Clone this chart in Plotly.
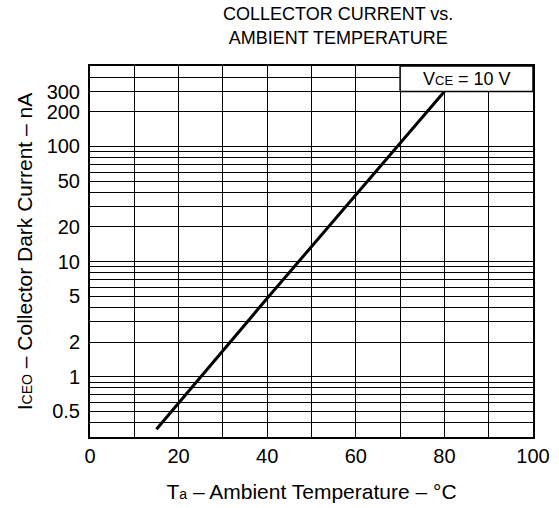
import math
import plotly.graph_objects as go

# Data (straight line on log scale)
temp_c = [15, 40, 80]
iceo_na = [0.35, 4.8, 300]

x_grid = [0, 10, 20, 30, 40, 50, 60, 70, 80, 90, 100]
x_labels = ["0", "", "20", "", "40", "", "60", "", "80", "", "100"]

y_grid = [0.3, 0.4, 0.5, 0.6, 0.7, 0.8, 0.9,
          1, 2, 3, 4, 5, 6, 7, 8, 9,
          10, 20, 30, 40, 50, 60, 70, 80, 90,
          100, 200, 300, 400, 500]
y_label_map = {0.5: "0.5", 1: "1", 2: "2", 5: "5", 10: "10", 20: "20",
               50: "50", 100: "100", 200: "200", 300: "300"}
y_labels = [y_label_map.get(v, "") for v in y_grid]

FONT = "Liberation Sans, Arial, sans-serif"

fig = go.Figure()
fig.add_trace(go.Scatter(
    x=temp_c, y=iceo_na, mode="lines",
    line=dict(color="black", width=3),
    showlegend=False, hoverinfo="skip",
))

fig.add_shape(type="rect", xref="x", yref="y",
              x0=70, x1=100, y0=300, y1=500,
              fillcolor="white", line=dict(color="black", width=1.5),
              layer="above")
fig.add_annotation(
    x=85, y=math.log10(387), xref="x", yref="y",
    text='V<span style="font-size:13px">CE</span> = 10 V',
    showarrow=False, font=dict(family=FONT, size=18, color="black"),
)

fig.update_layout(
    width=559, height=508,
    margin=dict(l=90, r=26, t=66, b=71),
    paper_bgcolor="white", plot_bgcolor="white",
    font=dict(family=FONT, size=20, color="black"),
    title=dict(
        text="COLLECTOR CURRENT vs.<br>AMBIENT TEMPERATURE",
        x=0.605, xanchor="center", y=0.96, yanchor="top",
        font=dict(family=FONT, size=18, color="black"),
    ),
)

fig.update_xaxes(
    range=[0, 100], tickvals=x_grid, ticktext=x_labels,
    showgrid=True, gridcolor="black", gridwidth=1,
    showline=True, linecolor="black", linewidth=2, mirror=True,
    ticks="", zeroline=False, automargin=False,
    tickfont=dict(family=FONT, size=20),
    title=dict(text='T<span style="font-size:14px">a</span> – Ambient Temperature – °C',
               standoff=18, font=dict(family=FONT, size=21)),
)
fig.update_yaxes(
    type="log", range=[math.log10(0.3), math.log10(500)],
    tickvals=y_grid, ticktext=y_labels,
    showgrid=True, gridcolor="black", gridwidth=1,
    showline=True, linecolor="black", linewidth=2, mirror=True,
    ticks="", zeroline=False, automargin=False, ticklabelstandoff=4,
    tickfont=dict(family=FONT, size=20),
    title=dict(text='I<span style="font-size:14px">CEO</span> – Collector Dark Current – nA',
               standoff=8, font=dict(family=FONT, size=21)),
)

fig.write_html("out.html", config={"displayModeBar": False},
               post_script="document.body.style.margin='0';")
